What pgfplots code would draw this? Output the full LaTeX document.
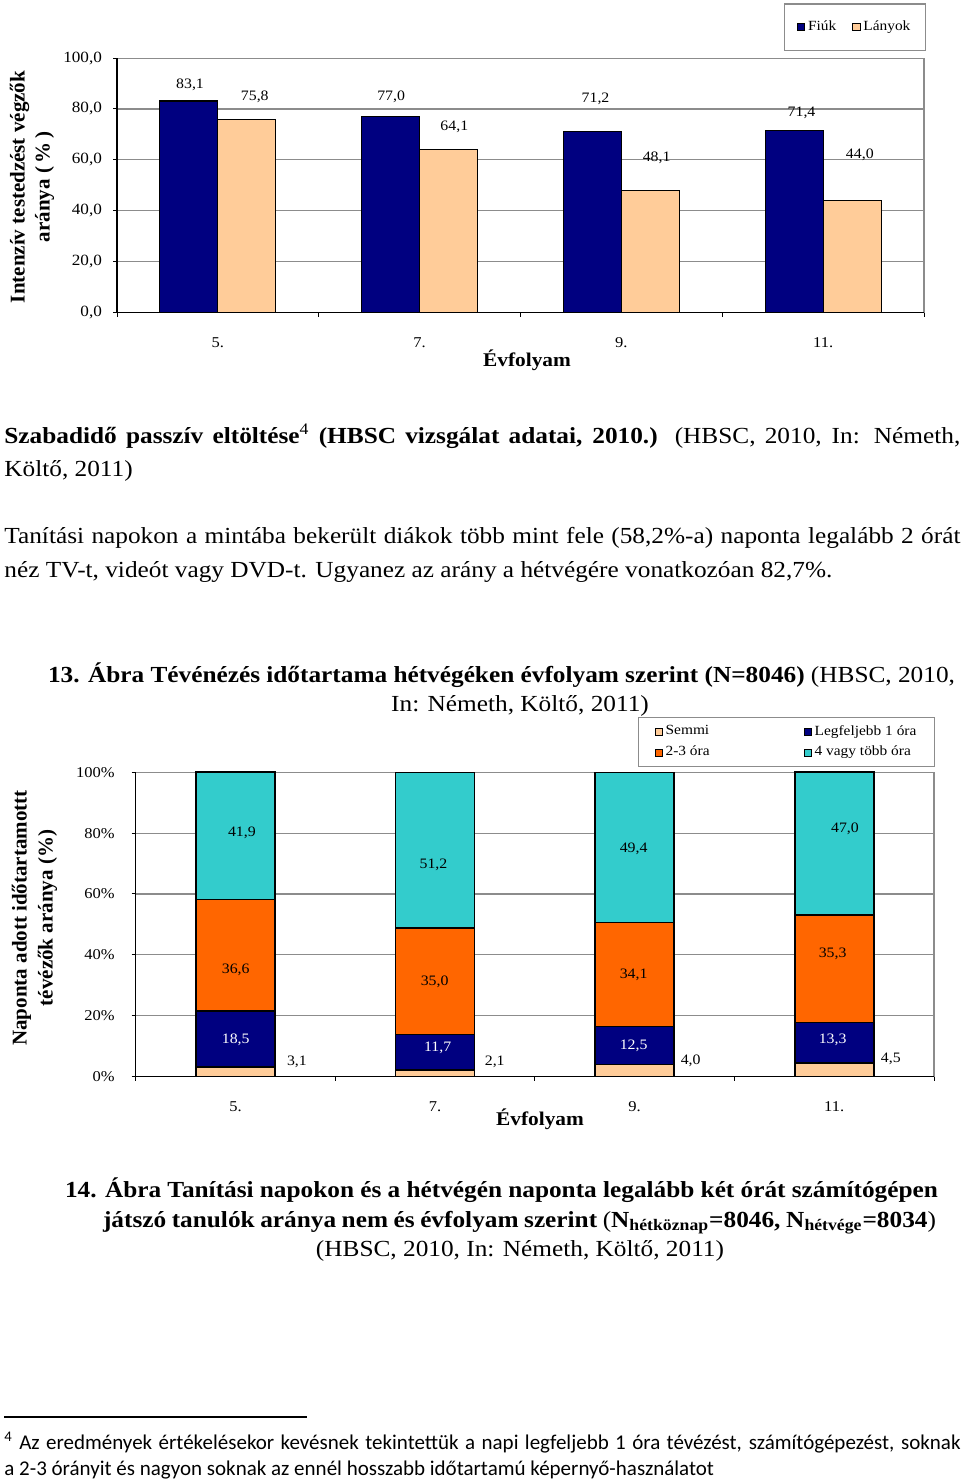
\documentclass[border=0pt]{standalone}
\usepackage{fontspec}
\setmainfont{Liberation Serif}[FakeStretch=1.1]
\newfontfamily\rotfont{Liberation Serif}
\newfontfamily\fnfont{Carlito}
\usepackage{pgfplots}
\pgfplotsset{compat=1.18}

\definecolor{navy}{HTML}{000080}
\definecolor{peach}{HTML}{FFCC99}
\definecolor{tvorange}{HTML}{FF6600}
\definecolor{tvcyan}{HTML}{33CCCC}
\definecolor{framegray}{HTML}{8C8C8C}

\newcommand\bodysize{\fontsize{11.5}{14}\selectfont}

\pgfplotsset{
  sq legend/.style={legend image code/.code={\draw[##1,draw=black,line width=0.4pt] (0pt,-1.8pt) rectangle (3.6pt,1.8pt);}},
  chartbase/.style={
    scale only axis,
    xmin=-0.5, xmax=3.5, ymin=0, ymax=100,
    axis line style={framegray, line width=0.6pt},
    ytick={0,20,...,100},
    xtick={-0.5,0.5,...,3.5},
    x tick label as interval,
    xticklabels={5.,7.,9.,11.},
    tick align=outside, tick pos=left,
    major tick length=2pt,
    tick style={black, line width=0.5pt},
    ymajorgrids, grid style={framegray, line width=0.6pt},
    ticklabel style={font=\fontsize{7.5}{9}\selectfont},
    /pgf/number format/assume math mode=true,
    xticklabel style={yshift=-7pt},
    legend cell align=left,
    clip=false,
  },
  lbl/.style={draw=none, mark=none, forget plot, nodes near coords,
    point meta=explicit symbolic,
    every node near coord/.append style={anchor=center, inner sep=0pt,
      font=\fontsize{7.2}{8}\selectfont, #1}},
}

\begin{document}
\begin{tikzpicture}

% chart 1: intenziv testedzes
\begin{axis}[chartbase,
  at={(58.5pt,-156.25pt)}, anchor=south west,
  width=403.5pt, height=127.2pt,
  yticklabels={{0,0},{20,0},{40,0},{60,0},{80,0},{100,0}},
  yticklabel style={font=\fontsize{7.8}{9}\selectfont, xshift=-2pt},
  legend columns=2,
  legend style={at={(1.0025,1.2154)}, anchor=north east, draw=framegray,
    line width=0.6pt, font=\fontsize{7}{8}\selectfont,
    inner xsep=6.5pt, inner ysep=7.5pt, nodes={inner sep=1pt},
    /tikz/every odd column/.append style={column sep=0.5pt},
    /tikz/every even column/.append style={column sep=7pt}},
]
\addplot[ybar, bar width=29pt, bar shift=-14.5pt, fill=navy, draw=black, line width=0.6pt, sq legend]
  coordinates {(0,83.1) (1,77.0) (2,71.2) (3,71.4)};
\addlegendentry{Fiúk}
\addplot[ybar, bar width=29pt, bar shift=14.5pt, fill=peach, draw=black, line width=0.6pt, sq legend]
  coordinates {(0,75.8) (1,64.1) (2,48.1) (3,44.0)};
\addlegendentry{Lányok}
\addplot[lbl={black}] table[row sep=\\, meta=l] {
x y l\\
-0.138 89.4 83,1\\
0.183 84.7 75,8\\
0.859 84.8 77,0\\
1.172 73.0 64,1\\
1.872 83.9 71,2\\
2.175 60.7 48,1\\
2.893 78.5 71,4\\
3.182 61.9 44,0\\
};
\draw[black, line width=0.6pt] (rel axis cs:0,1) -- (rel axis cs:0,0) -- (rel axis cs:1,0);
\end{axis}

% chart 2: tevenezes idotartama
\begin{axis}[chartbase,
  at={(67.85pt,-538.25pt)}, anchor=south west,
  width=399.15pt, height=152.1pt,
  ybar stacked, bar width=39.5pt,
  yticklabels={0\%,20\%,40\%,60\%,80\%,100\%},
  yticklabel style={xshift=-5pt},
  legend columns=2,
  legend style={at={(1.0013,1.1828)}, anchor=north east, draw=framegray,
    line width=0.6pt, font=\fontsize{7}{8}\selectfont,
    inner xsep=8pt, inner ysep=3pt, nodes={inner sep=1pt}, row sep=2pt,
    /tikz/every odd column/.append style={column sep=0.5pt},
    /tikz/every even column/.append style={column sep=46pt}},
]
\addplot[fill=peach, draw=black, line width=0.8pt, sq legend]
  coordinates {(0,3.1) (1,2.1) (2,4.0) (3,4.5)};
\addlegendentry{Semmi}
\addplot[fill=navy, draw=black, line width=0.8pt, sq legend]
  coordinates {(0,18.5) (1,11.7) (2,12.5) (3,13.3)};
\addlegendentry{Legfeljebb 1 óra}
\addplot[fill=tvorange, draw=black, line width=0.8pt, sq legend]
  coordinates {(0,36.6) (1,35.0) (2,34.1) (3,35.3)};
\addlegendentry{2-3 óra}
\addplot[fill=tvcyan, draw=black, line width=0.8pt, sq legend]
  coordinates {(0,41.9) (1,51.2) (2,49.4) (3,47.0)};
\addlegendentry{4 vagy több óra}
\draw[black, line width=0.6pt] (rel axis cs:0,1) -- (rel axis cs:0,0) -- (rel axis cs:1,0);
\end{axis}

% chart 2 value labels
\begin{axis}[scale only axis, hide axis,
  at={(67.85pt,-538.25pt)}, anchor=south west,
  width=399.15pt, height=152.1pt,
  xmin=-0.5, xmax=3.5, ymin=0, ymax=100, clip=false]
\addplot[lbl={black}] table[row sep=\\, meta=l] {
x y l\\
0.032 80.1 41,9\\
0.001 35.0 36,6\\
0.308 4.9 3,1\\
0.992 69.5 51,2\\
0.998 31.0 35,0\\
1.299 4.7 2,1\\
1.995 75.0 49,4\\
1.995 33.3 34,1\\
2.281 5.2 4,0\\
3.054 81.4 47,0\\
2.992 40.2 35,3\\
3.284 5.9 4,5\\
};
\addplot[lbl={white}] table[row sep=\\, meta=l] {
x y l\\
0.001 12.1 18,5\\
1.013 9.3 11,7\\
1.995 10.0 12,5\\
2.992 12.1 13,3\\
};
\end{axis}

% page text, in pixel coordinates of the scan
\begin{scope}[x=0.5pt, y=-0.5pt, every node/.style={inner sep=0pt}]
\path (0,0) rectangle (960,1483);

\node[rotate=90, align=center, font={\rotfont\bfseries\fontsize{10.5}{12.5}\selectfont}]
  at (32,187) {Intenzív testedzést végzők\\aránya (\,\%\,)};
\node[font={\bfseries\fontsize{9.7}{11}\selectfont}] at (527,360) {Évfolyam};

\node[anchor=base west] at (4,443) {\bodysize\makebox[478pt][s]{\textbf{Szabadidő passzív eltöltése}\textsuperscript{4} \textbf{(HBSC vizsgálat adatai, 2010.)} (HBSC, 2010, In: Németh,}};
\node[anchor=base west] at (4,476) {\bodysize Költő, 2011)};
\node[anchor=base west] at (4,543) {\bodysize\makebox[478pt][s]{Tanítási napokon a mintába bekerült diákok több mint fele (58,2\%-a) naponta legalább 2 órát}};
\node[anchor=base west] at (4,577) {\bodysize néz TV-t, videót vagy DVD-t. Ugyanez az arány a hétvégére vonatkozóan 82,7\%.};

\node[anchor=base] at (501.5,682) {\bodysize\makebox[453.5pt][s]{\textbf{13. Ábra Tévénézés időtartama hétvégéken évfolyam szerint (N=8046)} (HBSC, 2010,}};
\node[anchor=base] at (520,711) {\bodysize In: Németh, Költő, 2011)};

\node[rotate=90, align=center, font={\rotfont\bfseries\fontsize{10.5}{13}\selectfont}]
  at (34.5,918) {Naponta adott időtartamottt\\tévézők aránya (\%)};
\node[font={\bfseries\fontsize{9.7}{11}\selectfont}] at (540,1119) {Évfolyam};

\node[anchor=base] at (501.5,1197) {\bodysize\makebox[436.5pt][s]{\textbf{14. Ábra Tanítási napokon és a hétvégén naponta legalább két órát számítógépen}}};
\node[anchor=base] at (519.5,1227) {\bodysize\makebox[416.5pt][s]{\textbf{játszó tanulók aránya nem és évfolyam szerint} (\textbf{N\textsubscript{hétköznap}=8046, N\textsubscript{hétvége}=8034})}};
\node[anchor=base] at (520,1256) {\bodysize (HBSC, 2010, In: Németh, Költő, 2011)};

\draw[line width=0.75pt] (4,1417) -- (307,1417);
\node[anchor=base west] at (4,1449) {\fnfont\fontsize{10.5}{12}\selectfont\makebox[478pt][s]{\textsuperscript{4} Az eredmények értékelésekor kevésnek tekintettük a napi legfeljebb 1 óra tévézést, számítógépezést, soknak}};
\node[anchor=base west] at (4,1475) {\fnfont\fontsize{10.5}{12}\selectfont a 2-3 órányit és nagyon soknak az ennél hosszabb időtartamú képernyő-használatot};
\end{scope}

\end{tikzpicture}
\end{document}
